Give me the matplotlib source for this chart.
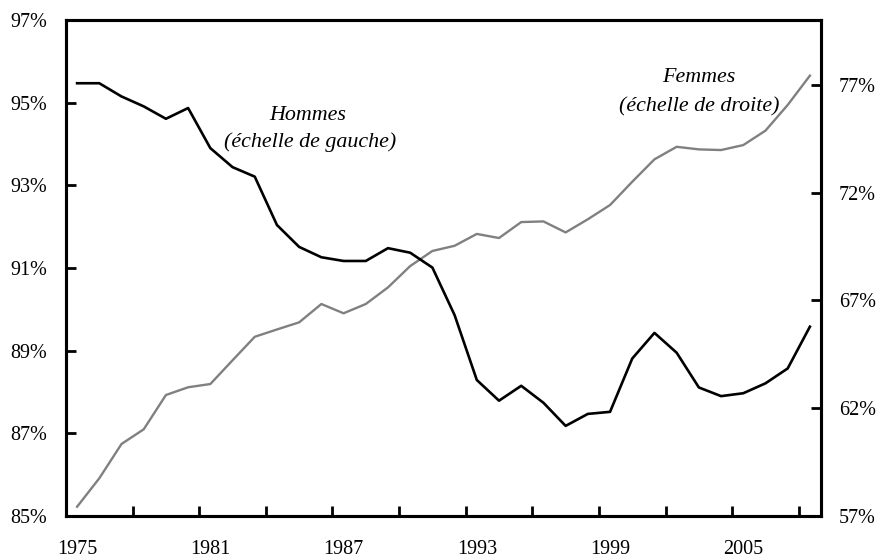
import matplotlib.pyplot as plt
from matplotlib.ticker import FixedLocator, FuncFormatter

# taux d'activite (%)
annees = list(range(1975, 2009))
hommes = [95.47, 95.47, 95.15, 94.91, 94.61, 94.87, 93.90, 93.44, 93.21, 92.04,
          91.51, 91.26, 91.17, 91.17, 91.48, 91.37, 91.01, 89.86, 88.29, 87.79,
          88.15, 87.74, 87.18, 87.47, 87.52, 88.81, 89.43, 88.95, 88.11, 87.90,
          87.97, 88.21, 88.57, 89.58]
femmes = [57.43, 58.75, 60.34, 61.02, 62.61, 62.97, 63.12, 64.22, 65.31, 65.65,
          65.98, 66.83, 66.40, 66.83, 67.60, 68.59, 69.29, 69.53, 70.08, 69.89,
          70.63, 70.66, 70.15, 70.76, 71.42, 72.50, 73.54, 74.12, 74.00, 73.97,
          74.20, 74.87, 76.06, 77.42]
ticks_gauche = [85, 87, 89, 91, 93, 95, 97]
ticks_droite = [57, 62, 67, 72, 77]
annees_labels = [1975, 1981, 1987, 1993, 1999, 2005]

plt.rcParams['font.family'] = ['Liberation Serif', 'DejaVu Serif']
fs = 14.5
fs_txt = 15.8

fig = plt.figure(figsize=(8.78, 5.57), dpi=100)
ax = fig.add_axes([66/878, 1-516/557, (821-66)/878, (516-20)/557])
ax2 = ax.twinx()

ax.plot(annees, hommes, color='black', lw=1.9, zorder=3)
ax2.plot(annees, femmes, color='#808080', lw=1.7)
ax.set_zorder(ax2.get_zorder() + 1)
ax.patch.set_visible(False)

ax.set_xlim(annees[0] - 0.5, annees[-1] + 0.5)
ax.set_ylim(85, 97)
ax2.set_ylim(57, 80)

pct = FuncFormatter(lambda v, p: '%d%%' % v)
ax.yaxis.set_major_locator(FixedLocator(ticks_gauche))
ax.yaxis.set_major_formatter(pct)
ax2.yaxis.set_major_locator(FixedLocator(ticks_droite))
ax2.yaxis.set_major_formatter(pct)

# ticks entre les categories tous les 3 ans, etiquettes tous les 6 ans
ax.xaxis.set_major_locator(FixedLocator([a - 0.5 for a in range(1975, 2009, 3)]))
ax.xaxis.set_major_formatter(FuncFormatter(lambda v, p: ''))
ax.xaxis.set_minor_locator(FixedLocator(annees_labels))
ax.xaxis.set_minor_formatter(FuncFormatter(lambda v, p: '%d' % v))

for a in (ax, ax2):
    for s in a.spines.values():
        s.set_linewidth(2.2)
ax.tick_params(axis='y', direction='in', length=7, width=2, labelsize=fs, pad=13.5)
ax.tick_params(axis='x', which='major', direction='in', length=7, width=2)
ax.tick_params(axis='x', which='minor', length=0, labelsize=fs, pad=17)
ax2.tick_params(axis='y', direction='in', length=7, width=2, labelsize=fs, pad=13)

ax.text(1985.4, 94.70, 'Hommes', style='italic', fontsize=fs_txt, ha='center', va='center')
ax.text(1985.5, 94.05, '(échelle de gauche)', style='italic', fontsize=fs_txt, ha='center', va='center')
ax.text(2003.0, 95.60, 'Femmes', style='italic', fontsize=fs_txt, ha='center', va='center')
ax.text(2003.0, 94.90, '(échelle de droite)', style='italic', fontsize=fs_txt, ha='center', va='center')

fig.savefig('out.png', dpi=100)
